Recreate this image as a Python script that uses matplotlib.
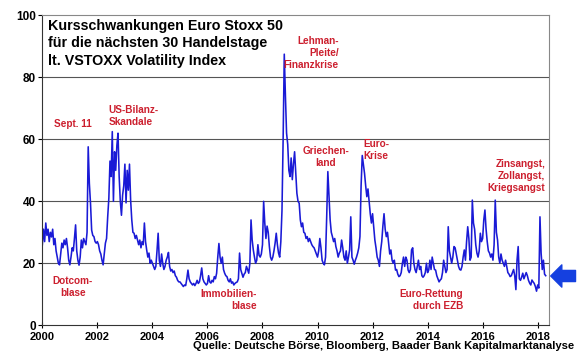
import matplotlib
matplotlib.use("Agg")
import matplotlib.pyplot as plt
import numpy as np

plt.rcParams['font.family'] = ['Liberation Sans', 'DejaVu Sans']

# VSTOXX at roughly semi-monthly steps
vstoxx = {
    2000: [26, 31, 27, 33, 29, 31, 27, 30, 28.5, 31, 26, 28, 24, 22, 20, 19.5, 23, 26.5, 25, 27.5, 26, 28, 25, 21],
    2001: [19.5, 22, 25, 24, 28, 32.4, 24, 21, 19.4, 22, 27.5, 25, 28, 27, 26, 30, 57.6, 45.8, 39.4, 30.7, 29, 28.6, 27, 26.5],
    2002: [27, 26, 24, 23, 21, 19.5, 23, 26.5, 28, 35, 41, 53, 48, 62.5, 40, 56, 50, 58, 62, 48, 40, 35.5, 42, 45],
    2003: [52, 39.5, 50, 43.6, 52, 40.4, 34, 30, 29.7, 28, 29, 27.5, 26, 27.5, 25, 27, 26, 33, 27, 24.3, 22, 23.3, 20, 21],
    2004: [20, 19, 18, 19, 24, 29.7, 21, 19, 23, 20, 18, 19, 21, 22, 23.5, 19, 17.5, 18, 17, 17.5, 16, 15.5, 14.5, 14],
    2005: [14, 13.5, 13, 12.5, 13, 12.8, 15, 17.8, 15, 14, 13.5, 13, 13.5, 12.8, 13.5, 14.5, 13.5, 14, 16, 18.5, 15, 14, 13.5, 13],
    2006: [13.5, 16, 14, 13.6, 14.5, 14, 15.7, 15, 16.8, 22, 26.4, 22, 20, 22, 18, 16.8, 16, 15.7, 14.5, 14, 15, 13.6, 14, 13],
    2007: [13.5, 13.8, 14, 15, 23.3, 18, 16.8, 15.5, 16.5, 17, 19, 18, 16.8, 20, 34, 27.5, 24.3, 22, 20, 21, 26, 22.6, 22, 23],
    2008: [26, 40, 33, 28, 32, 30, 25.4, 22, 21, 22, 24, 26.5, 29.7, 26, 23.3, 22, 27, 37, 60, 87.5, 74, 62, 58.4, 50],
    2009: [48, 54, 47, 52, 56, 49, 42.6, 40, 39.4, 34, 31.8, 33, 30, 29.7, 28, 28.6, 27, 28, 27, 26, 25.4, 25, 24, 23],
    2010: [22, 24, 28, 25, 21, 20, 19.5, 22, 35, 49.6, 41.5, 34, 30, 28.6, 27, 28, 25.4, 24, 22, 23.3, 24, 27.5, 25, 22],
    2011: [21, 24, 20, 22, 24.3, 35, 22, 21, 19.7, 21, 22, 23.3, 25, 28.6, 45, 54.8, 52, 49, 45, 41.5, 44, 40, 36, 33],
    2012: [36, 31.8, 27.5, 25, 22, 21, 19, 24, 27, 32, 36, 31, 28.6, 30, 26.5, 23, 24.3, 21, 20, 21, 17.8, 18, 16.5, 15.7],
    2013: [16, 17, 20, 22, 19, 22, 21, 17.8, 17, 18, 24.3, 25, 20, 18, 17, 19, 21, 18, 19, 16, 15.5, 16, 17, 20],
    2014: [17, 17.8, 21, 18, 22, 20, 18, 17.8, 16, 15, 14, 14.6, 15, 17, 21, 19, 17, 18, 31.8, 24, 22, 20, 22, 25.4],
    2015: [25, 23, 21, 19, 18, 17.8, 19, 22, 24.3, 21, 27, 31.8, 28, 21, 22, 40.4, 33, 31, 26, 23.3, 22, 24, 29.7, 27],
    2016: [28, 34, 37.2, 31, 27, 24, 23.3, 22, 23, 21, 26, 40.4, 30, 27.5, 22, 20, 23, 21, 20, 19, 21, 19, 17, 16.5],
    2017: [15.7, 16, 17, 18, 16, 11.5, 21, 25.4, 15, 14.5, 15.5, 16.8, 15, 16, 17, 16, 14.5, 13.6, 13, 14.6, 14, 13.5, 12.5, 11],
    2018: [13, 12, 35, 23.3, 18, 21, 16.5, 16],
}
years = sorted(vstoxx)
dates = np.concatenate([y + np.arange(len(vstoxx[y])) / 24 for y in years])
values = np.concatenate([vstoxx[y] for y in years])

current_level = 15.9

title_lines = "Kursschwankungen Euro Stoxx 50\nfür die nächsten 30 Handelstage\nlt. VSTOXX Volatility Index"
source = "Quelle: Deutsche Börse, Bloomberg, Baader Bank Kapitalmarktanalyse"

# annotations: text, x (year), y (value, top of text), horizontal alignment
events = [
    ("Sept. 11", 2000.42, 66.5, "left"),
    ("US-Bilanz-\nSkandale", 2002.4, 71.0, "left"),
    ("Lehman-\nPleite/\nFinanzkrise", 2010.78, 93.5, "right"),
    ("Griechen-\nland", 2010.29, 57.8, "center"),
    ("Euro-\nKrise", 2011.66, 60.0, "left"),
    ("Zinsangst,\nZollangst,\nKriegsangst", 2018.28, 53.8, "right"),
    ("Dotcom-\nblase", 2001.1, 15.8, "center"),
    ("Immobilien-\nblase", 2007.79, 11.8, "right"),
    ("Euro-Rettung\ndurch EZB", 2015.3, 11.8, "right"),
]

fig = plt.figure(figsize=(5.8, 3.59), dpi=100)
ax = fig.add_axes([0.073, 0.094, 0.873, 0.863])

ax.plot(dates, values, color="#1a1ad6", linewidth=1.15)

ax.set_xlim(2000, 2018.4)
ax.set_ylim(0, 100)
ax.set_xticks(range(2000, 2019, 2))
ax.set_yticks(range(0, 101, 20))
for v in (20, 40, 60, 80):
    ax.axhline(v, color="#555555", linewidth=0.8, zorder=0)

for lab in ax.get_xticklabels() + ax.get_yticklabels():
    lab.set_fontweight("bold")
ax.tick_params(axis="x", direction="inout", length=4, labelsize=8, pad=3)
ax.tick_params(axis="y", direction="out", length=3, labelsize=8.5, pad=1.5)
for side in ("left", "bottom"):
    ax.spines[side].set_color("#333333")
for side in ("top", "right"):
    ax.spines[side].set_color("#888888")

ax.text(0.011, 0.988, title_lines, transform=ax.transAxes, ha="left", va="top",
        fontsize=10.3, fontweight="bold", linespacing=1.3)

for txt, x, y, ha in events:
    ax.text(x, y, txt, ha=ha, va="top", fontsize=7.2, fontweight="bold",
            color="#cc1f2e", linespacing=1.25)

fig.text(0.99, 0.022, source, ha="right", va="bottom", fontsize=8.1, fontweight="bold")

# arrow marking the current level
ax.annotate("", xy=(1.004, current_level), xycoords=("axes fraction", "data"),
            xytext=(1.053, current_level), textcoords=("axes fraction", "data"),
            arrowprops=dict(arrowstyle="simple,head_width=1.6,head_length=0.8,tail_width=0.8",
                            color="#1540e0", shrinkA=0, shrinkB=0),
            annotation_clip=False)

fig.savefig("out.png", dpi=100)
